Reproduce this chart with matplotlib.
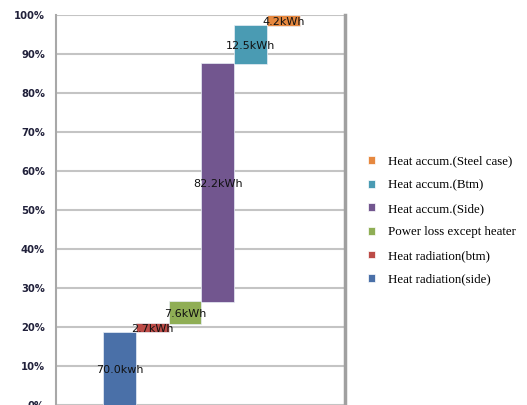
import matplotlib.pyplot as plt
from matplotlib.patches import Patch
from matplotlib.ticker import PercentFormatter

# waterfall segments (share of total, %)
categories = ['Heat radiation(side)', 'Heat radiation(btm)', 'Power loss except heater',
              'Heat accum.(Side)', 'Heat accum.(Btm)', 'Heat accum.(Steel case)']
seg_bottom = [0.0, 18.8, 20.7, 26.5, 87.4, 97.2]
seg_top = [18.8, 20.9, 26.7, 87.7, 97.4, 100.0]
seg_labels = ['70.0kwh', '2.7kWh', '7.6kWh', '82.2kWh', '12.5kWh', '4.2kWh']
colors = ['#4a70a8', '#bc4b47', '#8fae55', '#72568f', '#4a9bb3', '#e6883f']
yticks = [0, 10, 20, 30, 40, 50, 60, 70, 80, 90, 100]

fig = plt.figure(figsize=(5.27, 4.05), dpi=100)
ax = fig.add_axes([56 / 527, 0, 289 / 527, 390 / 405])

x = list(range(len(categories)))
heights = [t - b for b, t in zip(seg_bottom, seg_top)]
ax.bar(x, heights, bottom=seg_bottom, width=1.0, color=colors,
       edgecolor='#e8eef6', linewidth=0.5, zorder=3)

for xi, b, t, lab in zip(x, seg_bottom, seg_top, seg_labels):
    ax.text(xi, (b + t) / 2 - 0.4, lab, ha='center', va='center', fontsize=8,
            color='#111111', zorder=4)

ax.set_xlim(-1.95, 6.89)
ax.set_ylim(0, 100)
ax.set_yticks(yticks)
ax.yaxis.set_major_formatter(PercentFormatter(decimals=0))
ax.tick_params(axis='y', length=0, pad=8, labelsize=7.2, labelcolor='#20203a')
ax.set_xticks([])
for lab in ax.get_yticklabels():
    lab.set_fontweight('bold')

ax.grid(axis='y', color='#c4c4c4', linewidth=1.5, zorder=0)
ax.spines['top'].set_visible(False)
ax.spines['bottom'].set_visible(False)
ax.spines['left'].set_color('#a8a8a8')
ax.spines['left'].set_linewidth(1.5)
ax.spines['right'].set_color('#a0a0a0')
ax.spines['right'].set_linewidth(2.5)

handles = [Patch(facecolor=c, edgecolor='white', linewidth=0.5) for c in colors]
fig.legend(handles[::-1], categories[::-1], loc='upper left',
           bbox_to_anchor=(356 / 527, 1 - 144 / 405), frameon=False,
           prop={'family': 'Liberation Serif', 'size': 9.3},
           handlelength=0.55, handleheight=0.55, handletextpad=1.05,
           labelspacing=0.9)

fig.savefig('out.png', dpi=100)
